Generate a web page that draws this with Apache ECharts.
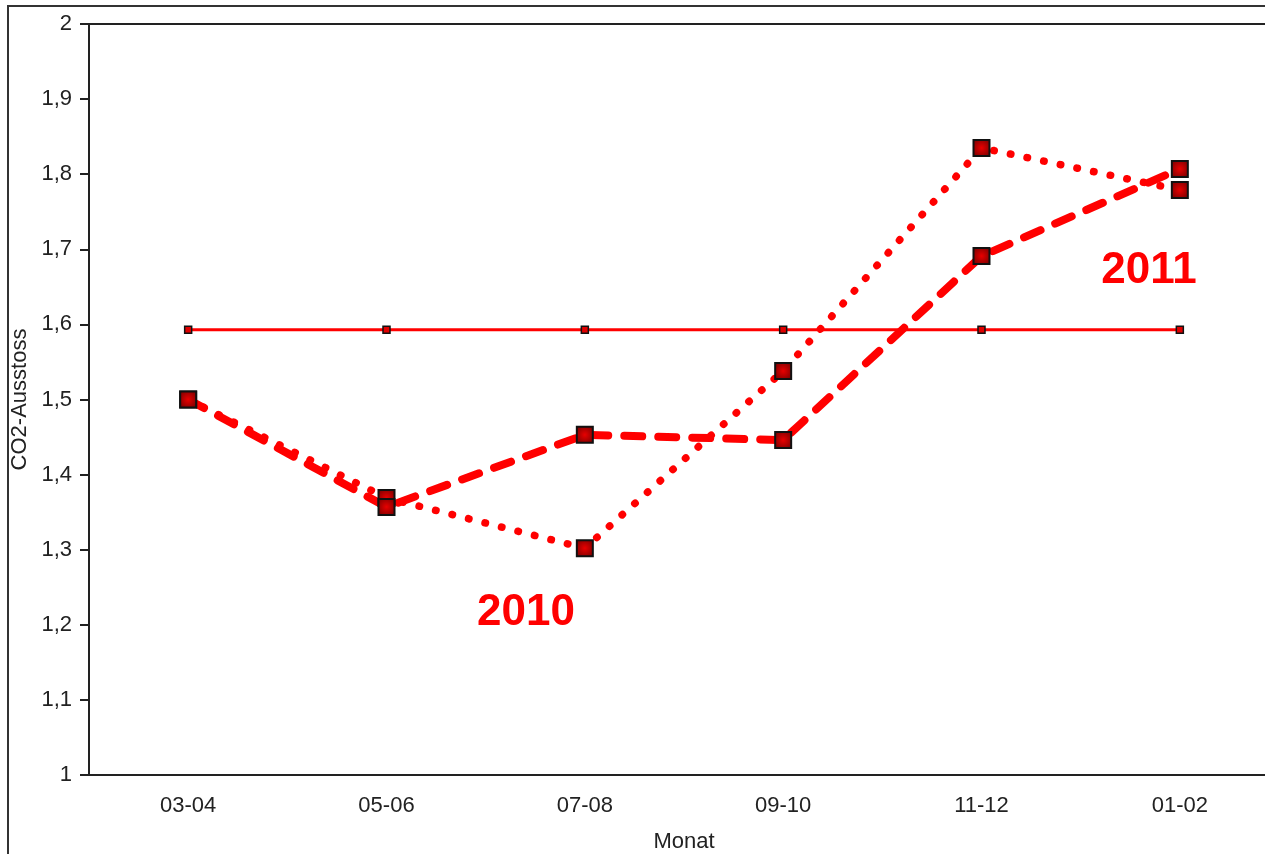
<!DOCTYPE html>
<html>
<head>
<meta charset="utf-8">
<script src="https://cdn.jsdelivr.net/npm/echarts@6/dist/echarts.min.js"></script>
<style>html,body{margin:0;padding:0;background:#fff}#c{width:1265px;height:854px}</style>
</head>
<body>
<div id="c"></div>
<script>
const categories = ['03-04', '05-06', '07-08', '09-10', '11-12', '01-02'];
const values2010 = [1.50, 1.369, 1.302, 1.538, 1.835, 1.779];
const values2011 = [1.50, 1.357, 1.453, 1.446, 1.691, 1.807];
const referenceValues = [1.593, 1.593, 1.593, 1.593, 1.593, 1.593];
const yTicks = { min: 1, max: 2, interval: 0.1 };

const chart = echarts.init(document.getElementById('c'), null, { renderer: 'canvas' });
const font = 'Liberation Sans, Arial, sans-serif';
const markerFill = {
  type: 'radial', x: 0.5, y: 0.5, r: 0.6,
  colorStops: [{ offset: 0, color: '#e80000' }, { offset: 1, color: '#7a0000' }]
};
chart.setOption({
  animation: false,
  backgroundColor: '#fff',
  grid: { left: 89, top: 24, bottom: 79, width: 1190, containLabel: false, outerBoundsMode: 'none',
    show: true, borderColor: '#222', borderWidth: 2, backgroundColor: 'transparent' },
  xAxis: {
    type: 'category', data: categories, boundaryGap: true,
    name: 'Monat', nameLocation: 'middle', nameGap: 56,
    nameTextStyle: { fontFamily: font, fontSize: 22, color: '#222' },
    axisLine: { lineStyle: { color: '#222', width: 2 } },
    axisTick: { alignWithLabel: true, length: 8, lineStyle: { color: '#222', width: 2 } },
    axisLabel: { fontFamily: font, fontSize: 22, color: '#222', margin: 20 },
    splitLine: { show: false }
  },
  yAxis: {
    type: 'value', min: yTicks.min, max: yTicks.max, interval: yTicks.interval,
    name: 'CO2-Ausstoss', nameLocation: 'middle', nameGap: 52, nameRotate: 90,
    nameTextStyle: { fontFamily: font, fontSize: 22, color: '#222' },
    axisLine: { show: true, lineStyle: { color: '#222', width: 2 } },
    axisTick: { show: true, length: 9, lineStyle: { color: '#222', width: 2 } },
    axisLabel: { fontFamily: font, fontSize: 22, color: '#222', margin: 17,
      formatter: v => String(+v.toFixed(1)).replace('.', ',') },
    splitLine: { show: false }
  },
  series: [
    {
      name: 'Referenz', type: 'line', data: referenceValues, z: 2,
      symbol: 'rect', symbolSize: 7, showAllSymbol: true,
      lineStyle: { color: '#ff0000', width: 3 },
      itemStyle: { color: '#e00000', borderColor: '#111', borderWidth: 1.5 }
    },
    {
      name: '2010', type: 'line', data: values2010, z: 3,
      symbol: 'rect', symbolSize: 16,
      lineStyle: { color: '#ff0000', width: 7.5, type: [0.5, 16.5], cap: 'round' },
      itemStyle: { color: markerFill, borderColor: '#111', borderWidth: 2 }
    },
    {
      name: '2011', type: 'line', data: values2011, z: 3,
      symbol: 'rect', symbolSize: 16,
      lineStyle: { color: '#ff0000', width: 8, type: [18, 16], cap: 'round' },
      itemStyle: { color: markerFill, borderColor: '#111', borderWidth: 2 }
    }
  ],
  graphic: [
    { type: 'rect', z: 100, silent: true, shape: { x: 8, y: 6, width: 1300, height: 900 },
      style: { fill: 'none', stroke: '#333', lineWidth: 2 } },
    { type: 'text', z: 100, style: { text: '2010', x: 526, y: 613, align: 'center', verticalAlign: 'middle',
      font: 'bold 44px Liberation Sans, Arial, sans-serif', fill: '#ff0000' } },
    { type: 'text', z: 100, style: { text: '2011', x: 1149, y: 271, align: 'center', verticalAlign: 'middle',
      font: 'bold 44px Liberation Sans, Arial, sans-serif', fill: '#ff0000' } }
  ]
});
</script>
</body>
</html>
